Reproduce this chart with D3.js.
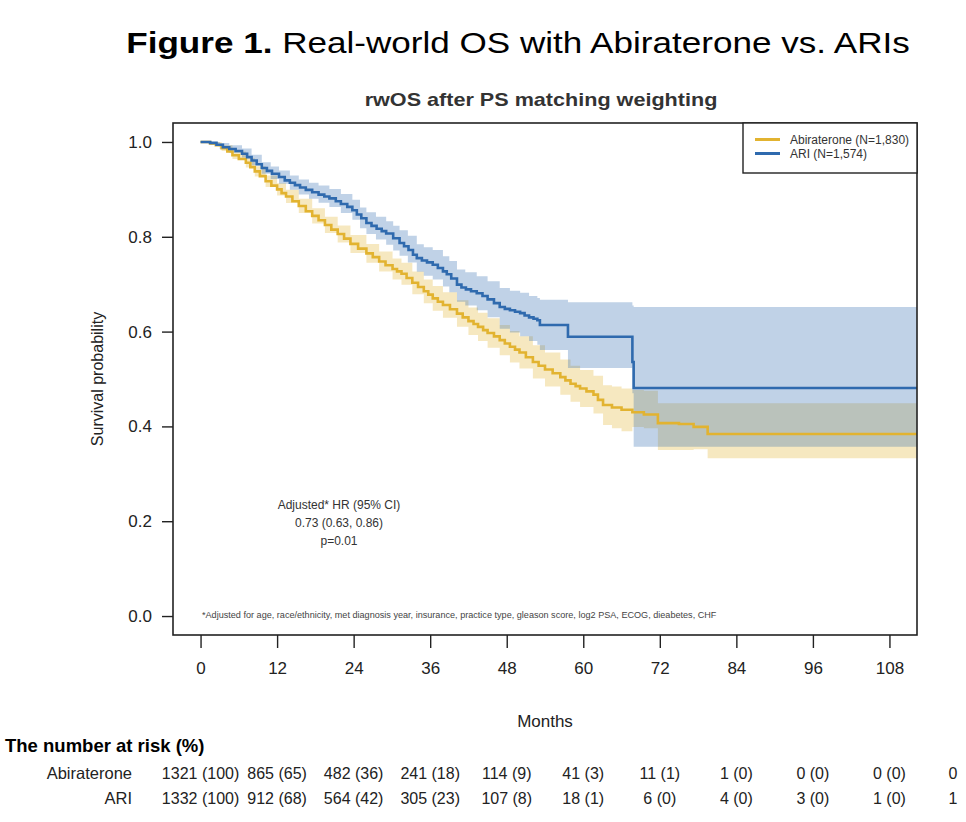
<!DOCTYPE html>
<html>
<head>
<meta charset="utf-8">
<script src="https://cdn.jsdelivr.net/npm/d3@7"></script>
<style>
  body { margin: 0; background: #fff; }
  svg { font-family: "Liberation Sans", Arial, sans-serif; }
</style>
</head>
<body>
<div id="chart"></div>
<script>
// KM curves (months, survival)
var ariTime = [0, 1.5, 2.5, 3.5, 4.5, 5.5, 6.5, 7.3, 8, 8.8, 9.6, 10.4, 11.2, 12.3, 13.2, 14, 14.8, 15.6, 16.5, 17.5, 18.5, 19.4, 20.2, 21.2, 22, 23, 23.8, 24.5, 25.2, 26, 26.8, 27.6, 28.4, 29.1, 30.2, 31.2, 31.9, 32.6, 33.3, 33.9, 34.7, 35.5, 36.4, 37.2, 38, 38.6, 39.3, 40.2, 40.9, 41.6, 42.4, 43.3, 44.2, 45, 46, 46.9, 47.7, 48.5, 49.3, 50.1, 50.8, 51.5, 52.2, 52.8, 53.2, 57.6, 67.7, 67.9, 112.3];
var ariSurv = [1, 0.998, 0.994, 0.989, 0.985, 0.981, 0.975, 0.968, 0.961, 0.953, 0.945, 0.939, 0.933, 0.926, 0.919, 0.914, 0.909, 0.904, 0.899, 0.894, 0.889, 0.885, 0.881, 0.875, 0.869, 0.863, 0.856, 0.847, 0.839, 0.829, 0.823, 0.817, 0.812, 0.807, 0.797, 0.787, 0.780, 0.772, 0.762, 0.755, 0.750, 0.746, 0.741, 0.734, 0.727, 0.721, 0.712, 0.699, 0.693, 0.689, 0.685, 0.681, 0.675, 0.668, 0.660, 0.652, 0.648, 0.645, 0.642, 0.639, 0.634, 0.630, 0.627, 0.624, 0.614, 0.589, 0.536, 0.481, 0.481];

var abiTime = [0, 1.5, 2.4, 3.3, 4.2, 5, 6, 7.1, 7.8, 8.5, 9.3, 10.2, 11.1, 12, 12.7, 13.4, 14.4, 15.4, 16.5, 17.5, 18.5, 19.5, 20.5, 21.5, 22.5, 23.5, 24.7, 26, 27, 28, 29, 30.1, 30.8, 31.5, 32.3, 33.2, 34.1, 35, 35.7, 36.4, 37.2, 38, 39.1, 40.2, 41.1, 42, 42.8, 43.5, 44.3, 45, 46, 46.9, 47.7, 48.5, 49.3, 50, 51, 52.1, 53, 54, 55.2, 56.4, 57.2, 58, 58.8, 59.5, 60.5, 61.6, 62.3, 63.1, 64.5, 66, 67.7, 69.5, 71.7, 75, 77.3, 79.5, 112.3];
var abiSurv = [1, 0.997, 0.993, 0.987, 0.980, 0.972, 0.964, 0.956, 0.947, 0.938, 0.928, 0.917, 0.908, 0.900, 0.892, 0.885, 0.875, 0.865, 0.854, 0.844, 0.835, 0.825, 0.815, 0.806, 0.796, 0.785, 0.775, 0.765, 0.757, 0.748, 0.740, 0.732, 0.727, 0.722, 0.713, 0.703, 0.694, 0.685, 0.678, 0.670, 0.663, 0.656, 0.647, 0.638, 0.630, 0.622, 0.616, 0.610, 0.603, 0.597, 0.590, 0.582, 0.575, 0.568, 0.562, 0.556, 0.546, 0.536, 0.528, 0.520, 0.512, 0.504, 0.497, 0.490, 0.485, 0.480, 0.474, 0.467, 0.456, 0.445, 0.440, 0.435, 0.430, 0.425, 0.407, 0.405, 0.399, 0.384, 0.384];

// 95% CI bands (months, lower, upper)
var ariBandTime = [0, 1.5, 3, 4.5, 6.5, 8, 9.6, 11, 12.3, 14, 15.4, 17, 18.5, 20.2, 22, 23.8, 25, 26, 27.5, 29.1, 30.2, 31.2, 32.5, 33.9, 35, 36.4, 38, 39, 40.2, 41.5, 43.3, 45, 46.9, 48.5, 50.1, 51.5, 52.8, 53.2, 57.6, 67.7, 67.9, 112.3];
var ariLower = [1, 0.995, 0.985, 0.977, 0.967, 0.951, 0.933, 0.922, 0.912, 0.899, 0.889, 0.880, 0.872, 0.863, 0.850, 0.836, 0.818, 0.806, 0.794, 0.783, 0.771, 0.760, 0.746, 0.726, 0.718, 0.710, 0.695, 0.683, 0.663, 0.655, 0.645, 0.630, 0.606, 0.598, 0.590, 0.580, 0.572, 0.561, 0.523, 0.470, 0.357, 0.357];
var ariUpper = [1, 1, 0.998, 0.993, 0.986, 0.973, 0.957, 0.948, 0.940, 0.929, 0.921, 0.914, 0.908, 0.901, 0.890, 0.878, 0.862, 0.852, 0.842, 0.833, 0.823, 0.814, 0.802, 0.784, 0.778, 0.772, 0.759, 0.749, 0.731, 0.725, 0.717, 0.706, 0.692, 0.686, 0.682, 0.675, 0.671, 0.667, 0.662, 0.655, 0.652, 0.652];

var abiBandTime = [0, 1.5, 3.3, 5, 7.1, 8.5, 10.2, 12, 13.4, 15.4, 17.5, 19.5, 21.5, 23.5, 26, 28, 30.1, 31.5, 33.2, 35, 36.4, 38, 40.2, 42, 43.5, 45, 46.9, 48.5, 50, 52.1, 54, 56.4, 58, 59.5, 61.6, 63.1, 64.5, 66, 67.7, 69.5, 71.7, 75, 77.3, 79.5, 112.3];
var abiLower = [1, 0.994, 0.981, 0.964, 0.946, 0.927, 0.905, 0.887, 0.871, 0.850, 0.828, 0.808, 0.788, 0.766, 0.745, 0.727, 0.710, 0.699, 0.679, 0.660, 0.644, 0.629, 0.610, 0.593, 0.580, 0.566, 0.550, 0.535, 0.522, 0.501, 0.484, 0.467, 0.452, 0.441, 0.427, 0.403, 0.396, 0.390, 0.399, 0.396, 0.350, 0.350, 0.352, 0.333, 0.333];
var abiUpper = [1, 1, 0.993, 0.980, 0.966, 0.949, 0.929, 0.913, 0.899, 0.880, 0.860, 0.842, 0.824, 0.804, 0.785, 0.769, 0.754, 0.745, 0.727, 0.710, 0.696, 0.683, 0.666, 0.651, 0.640, 0.628, 0.614, 0.601, 0.590, 0.571, 0.556, 0.541, 0.528, 0.519, 0.507, 0.487, 0.484, 0.480, 0.477, 0.475, 0.449, 0.449, 0.449, 0.449, 0.449];

var xTicks = [0, 12, 24, 36, 48, 60, 72, 84, 96, 108];
var yTicks = [0, 0.2, 0.4, 0.6, 0.8, 1.0];

// the last column is cut off at the right edge of the figure
var riskTimes = [0, 12, 24, 36, 48, 60, 72, 84, 96, 108, 120];
var riskAbi = ["1321 (100)", "865 (65)", "482 (36)", "241 (18)", "114 (9)", "41 (3)", "11 (1)", "1 (0)", "0 (0)", "0 (0)", "0"];
var riskAri = ["1332 (100)", "912 (68)", "564 (42)", "305 (23)", "107 (8)", "18 (1)", "6 (0)", "4 (0)", "3 (0)", "1 (0)", "1"];

var seriesNames = ["Abiraterone (N=1,830)", "ARI (N=1,574)"];
var abiColor = "#e2b330", ariColor = "#2f6aae";

// plot box
var box = {left: 173, right: 917, top: 123, bottom: 635};

var svg = d3.select("#chart").append("svg")
  .attr("width", 966)
  .attr("height", 822);

var x = d3.scaleLinear().domain([-4.32, 112.32]).range([box.left, box.right]);
var y = d3.scaleLinear().domain([-0.04, 1.04]).range([box.bottom, box.top]);

// titles (the figure's title text is drawn a bit wide)
var title = svg.append("text")
  .attr("transform", "translate(518,53)scale(1.21,1)")
  .attr("text-anchor", "middle")
  .style("font-size", "29px")
  .attr("fill", "#000");
title.append("tspan").style("font-weight", "bold").text("Figure 1.");
title.append("tspan").text(" Real-world OS with Abiraterone vs. ARIs");

svg.append("text")
  .attr("transform", "translate(541,106)scale(1.2,1)")
  .attr("text-anchor", "middle")
  .style("font-size", "18px")
  .style("font-weight", "bold")
  .attr("fill", "#333")
  .text("rwOS after PS matching weighting");

svg.append("clipPath").attr("id", "plotclip")
  .append("rect")
  .attr("x", box.left).attr("y", box.top)
  .attr("width", box.right - box.left).attr("height", box.bottom - box.top);

var plot = svg.append("g").attr("clip-path", "url(#plotclip)");

function bandRows(t, lo, hi) {
  return t.map(function(d, i) { return {t: d, lo: lo[i], hi: hi[i]}; });
}
function lineRows(t, s) {
  return t.map(function(d, i) { return {t: d, s: s[i]}; });
}

var band = d3.area()
  .curve(d3.curveStepAfter)
  .x(function(d) { return x(d.t); })
  .y0(function(d) { return y(d.lo); })
  .y1(function(d) { return y(d.hi); });

var line = d3.line()
  .curve(d3.curveStepAfter)
  .x(function(d) { return x(d.t); })
  .y(function(d) { return y(d.s); });

plot.append("path").datum(bandRows(abiBandTime, abiLower, abiUpper)).attr("d", band)
  .attr("fill", abiColor).attr("fill-opacity", 0.3);
plot.append("path").datum(bandRows(ariBandTime, ariLower, ariUpper)).attr("d", band)
  .attr("fill", ariColor).attr("fill-opacity", 0.3);

plot.append("path").datum(lineRows(abiTime, abiSurv)).attr("d", line)
  .attr("fill", "none").attr("stroke", abiColor).attr("stroke-width", 2.6);
plot.append("path").datum(lineRows(ariTime, ariSurv)).attr("d", line)
  .attr("fill", "none").attr("stroke", ariColor).attr("stroke-width", 2.6);

// box
svg.append("rect")
  .attr("x", box.left).attr("y", box.top)
  .attr("width", box.right - box.left).attr("height", box.bottom - box.top)
  .attr("fill", "none").attr("stroke", "#222").attr("stroke-width", 1.6);

// axes
var yAxis = svg.append("g")
  .attr("transform", "translate(" + box.left + ",0)")
  .call(d3.axisLeft(y).tickValues(yTicks).tickFormat(d3.format(".1f")).tickSize(11).tickPadding(10));
var xAxis = svg.append("g")
  .attr("transform", "translate(0," + box.bottom + ")")
  .call(d3.axisBottom(x).tickValues(xTicks).tickSize(13).tickPadding(14));
[xAxis, yAxis].forEach(function(a) {
  a.select(".domain").remove();
  a.selectAll("line").attr("stroke", "#222").attr("stroke-width", 1.4);
  a.selectAll("text").style("font-size", "17px").attr("fill", "#222")
    .style("font-family", "'Liberation Sans', Arial, sans-serif");
});

svg.append("text")
  .attr("x", (box.left + box.right) / 2).attr("y", 727)
  .attr("text-anchor", "middle")
  .style("font-size", "17px").attr("fill", "#222")
  .text("Months");

svg.append("text")
  .attr("transform", "translate(103," + ((box.top + box.bottom) / 2) + ")rotate(-90)")
  .attr("text-anchor", "middle")
  .style("font-size", "16px").attr("fill", "#222")
  .text("Survival probability");

// legend
var legend = svg.append("g");
legend.append("rect")
  .attr("x", 743).attr("y", box.top)
  .attr("width", box.right - 743).attr("height", 50)
  .attr("fill", "#fff").attr("stroke", "#222").attr("stroke-width", 1.4);
[abiColor, ariColor].forEach(function(c, i) {
  var ly = 139.5 + i * 14;
  legend.append("line")
    .attr("x1", 755).attr("x2", 780).attr("y1", ly).attr("y2", ly)
    .attr("stroke", c).attr("stroke-width", 3);
  legend.append("text")
    .attr("x", 790).attr("y", ly + 4)
    .style("font-size", "12px").attr("fill", "#333")
    .text(seriesNames[i]);
});

// HR annotation
var hrLines = ["Adjusted* HR (95% CI)", "0.73 (0.63, 0.86)", "p=0.01"];
svg.selectAll(".hr").data(hrLines).enter().append("text")
  .attr("x", 339).attr("y", function(d, i) { return 509 + i * 18; })
  .attr("text-anchor", "middle")
  .style("font-size", "12px").attr("fill", "#333")
  .text(function(d) { return d; });

svg.append("text")
  .attr("x", 202).attr("y", 618)
  .style("font-size", "9.1px").attr("fill", "#444")
  .text("*Adjusted for age, race/ethnicity, met diagnosis year, insurance, practice type, gleason score, log2 PSA, ECOG, dieabetes, CHF");

// number at risk table
svg.append("text")
  .attr("x", 5).attr("y", 752)
  .style("font-size", "18.5px").style("font-weight", "bold").attr("fill", "#000")
  .text("The number at risk (%)");

[["Abiraterone", riskAbi, 779], ["ARI", riskAri, 804]].forEach(function(r) {
  svg.append("text")
    .attr("x", 132).attr("y", r[2])
    .attr("text-anchor", "end")
    .style("font-size", "16.5px").attr("fill", "#222")
    .text(r[0]);
  svg.selectAll(null).data(r[1]).enter().append("text")
    .attr("x", function(d, i) { return i === riskTimes.length - 1 ? x(riskTimes[i]) - 13 : x(riskTimes[i]); })
    .attr("y", r[2])
    .attr("text-anchor", "middle")
    .style("font-size", "16px").attr("fill", "#222")
    .text(function(d) { return d; });
});
</script>
</body>
</html>
